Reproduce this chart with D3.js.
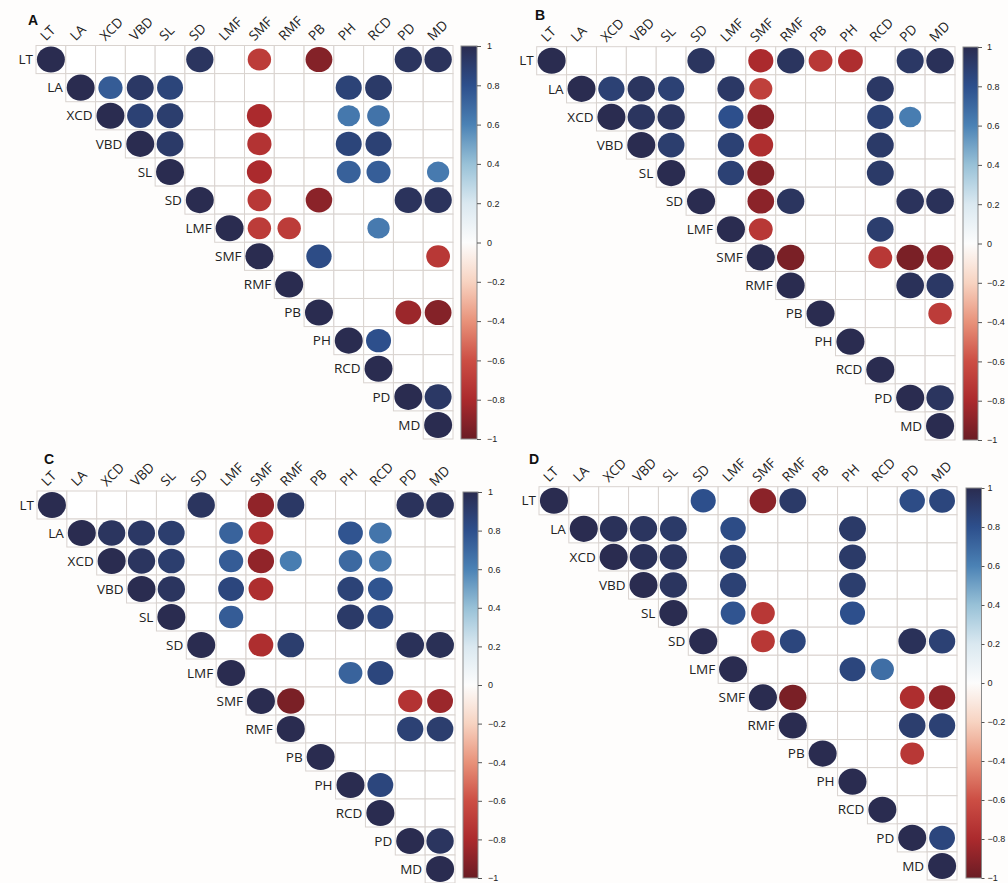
<!DOCTYPE html>
<html><head><meta charset="utf-8">
<script src="https://cdn.jsdelivr.net/npm/d3@7"></script>
<style>body{margin:0;background:#fff}svg{display:block}</style>
</head><body>
<svg id="chart" width="1008" height="883"></svg>
<script>
const variables = ["LT","LA","XCD","VBD","SL","SD","LMF","SMF","RMF","PB","PH","RCD","PD","MD"];
const colorTicks = [1,0.8,0.6,0.4,0.2,0,-0.2,-0.4,-0.6,-0.8,-1];
const paletteStops = [-1,-0.8,-0.6,-0.4,-0.2,0,0.2,0.4,0.6,0.8,1];
const paletteColors = ["#6a1c24","#ab2a2d","#cc4e44","#e8927a","#f7d3c1","#fcfcfc","#dae8f0","#98c1d7","#4b82b5","#2d4f8c","#2a2c50"];

// off-diagonal significant correlations [row, column, r]
const corrA = [
 ["LT","SD",0.95],["LT","SMF",-0.7],["LT","PB",-0.92],["LT","PD",0.95],["LT","MD",0.96],
 ["LA","XCD",0.75],["LA","VBD",0.93],["LA","SL",0.86],["LA","PH",0.87],["LA","RCD",0.92],
 ["XCD","VBD",0.88],["XCD","SL",0.9],["XCD","SMF",-0.8],["XCD","PH",0.64],["XCD","RCD",0.66],
 ["VBD","SL",0.92],["VBD","SMF",-0.75],["VBD","PH",0.86],["VBD","RCD",0.88],
 ["SL","SMF",-0.8],["SL","PH",0.73],["SL","RCD",0.74],["SL","MD",0.63],
 ["SD","SMF",-0.72],["SD","PB",-0.9],["SD","PD",0.96],["SD","MD",0.96],
 ["LMF","SMF",-0.7],["LMF","RMF",-0.7],["LMF","RCD",0.63],
 ["SMF","PB",0.82],["SMF","MD",-0.72],
 ["PB","PD",-0.85],["PB","MD",-0.92],
 ["PH","RCD",0.8],
 ["PD","MD",0.93]
];
const corrB = [
 ["LT","SD",0.95],["LT","SMF",-0.8],["LT","RMF",0.95],["LT","PB",-0.72],["LT","PH",-0.78],["LT","PD",0.93],["LT","MD",0.97],
 ["LA","XCD",0.88],["LA","VBD",0.95],["LA","SL",0.88],["LA","LMF",0.93],["LA","SMF",-0.68],["LA","RCD",0.93],
 ["XCD","VBD",0.95],["XCD","SL",0.95],["XCD","LMF",0.8],["XCD","SMF",-0.9],["XCD","RCD",0.88],["XCD","PD",0.62],
 ["VBD","SL",0.9],["VBD","LMF",0.88],["VBD","SMF",-0.78],["VBD","RCD",0.92],
 ["SL","LMF",0.88],["SL","SMF",-0.92],["SL","RCD",0.92],
 ["SD","SMF",-0.9],["SD","RMF",0.95],["SD","PD",0.96],["SD","MD",0.97],
 ["LMF","SMF",-0.72],["LMF","RCD",0.9],
 ["SMF","RMF",-0.95],["SMF","RCD",-0.72],["SMF","PD",-0.95],["SMF","MD",-0.9],
 ["RMF","PD",0.97],["RMF","MD",0.93],
 ["PB","MD",-0.7],
 ["PD","MD",0.95]
];
const corrC = [
 ["LT","SD",0.95],["LT","SMF",-0.88],["LT","RMF",0.93],["LT","PD",0.96],["LT","MD",0.97],
 ["LA","XCD",0.95],["LA","VBD",0.93],["LA","SL",0.9],["LA","LMF",0.72],["LA","SMF",-0.78],["LA","PH",0.78],["LA","RCD",0.65],
 ["XCD","VBD",0.95],["XCD","SL",0.9],["XCD","LMF",0.75],["XCD","SMF",-0.88],["XCD","RMF",0.62],["XCD","PH",0.7],["XCD","RCD",0.65],
 ["VBD","SL",0.95],["VBD","LMF",0.85],["VBD","SMF",-0.78],["VBD","PH",0.87],["VBD","RCD",0.78],
 ["SL","LMF",0.75],["SL","PH",0.92],["SL","RCD",0.85],
 ["SD","SMF",-0.78],["SD","RMF",0.9],["SD","PD",0.97],["SD","MD",0.98],
 ["LMF","PH",0.72],["LMF","RCD",0.85],
 ["SMF","RMF",-0.95],["SMF","PD",-0.75],["SMF","MD",-0.85],
 ["RMF","PD",0.88],["RMF","MD",0.9],
 ["PH","RCD",0.85],
 ["PD","MD",0.95]
];
const corrD = [
 ["LT","SD",0.8],["LT","SMF",-0.9],["LT","RMF",0.92],["LT","PD",0.82],["LT","MD",0.85],
 ["LA","XCD",0.97],["LA","VBD",0.95],["LA","SL",0.92],["LA","LMF",0.82],["LA","PH",0.92],
 ["XCD","VBD",0.97],["XCD","SL",0.95],["XCD","LMF",0.88],["XCD","PH",0.92],
 ["VBD","SL",0.95],["VBD","LMF",0.88],["VBD","PH",0.9],
 ["SL","LMF",0.78],["SL","SMF",-0.72],["SL","PH",0.8],
 ["SD","SMF",-0.72],["SD","RMF",0.85],["SD","PD",0.97],["SD","MD",0.88],
 ["LMF","PH",0.85],["LMF","RCD",0.68],
 ["SMF","RMF",-0.95],["SMF","PD",-0.78],["SMF","MD",-0.88],
 ["RMF","PD",0.9],["RMF","MD",0.88],
 ["PB","PD",-0.72],
 ["PD","MD",0.85]
];
const panelLetters = ["A","B","C","D"];

const svg = d3.select("#chart");
svg.append("rect").attr("width",1008).attr("height",883).attr("fill","#fefdfc");
const color = d3.scaleLinear().domain(paletteStops).range(paletteColors).interpolate(d3.interpolateRgb);

const defs = svg.append("defs");
const grad = defs.append("linearGradient").attr("id","cbgrad").attr("x1",0).attr("y1",1).attr("x2",0).attr("y2",0);
d3.range(0,1.0001,0.05).forEach(t=>{
  grad.append("stop").attr("offset",t).attr("stop-color",color(-1+2*t));
});

const layouts = [
 {left:36, top:45.5, right:453, bottom:439, cbX:461, cbW:16, cbTop:46, cbBot:439, lx:28, ly:25, tk:4, pad:6, data:corrA},
 {left:536.7, top:46.7, right:955, bottom:440, cbX:963, cbW:15, cbTop:47, cbBot:440, lx:535, ly:20, tk:4, pad:5, data:corrB},
 {left:37, top:491, right:455, bottom:883, cbX:463, cbW:15, cbTop:492, cbBot:878, lx:44, ly:464, tk:4, pad:6, data:corrC},
 {left:539, top:486.7, right:957, bottom:880, cbX:966, cbW:15.5, cbTop:488, cbBot:878, lx:529, ly:464, tk:3, pad:3, data:corrD}
];

layouts.forEach((L,pi)=>{
  const g = svg.append("g");
  const x = d3.scaleBand().domain(variables).range([L.left,L.right]).padding(0);
  const y = d3.scaleBand().domain(variables).range([L.top,L.bottom]).padding(0);
  const cw = x.bandwidth(), ch = y.bandwidth();
  const cells = [];
  variables.forEach((r,i)=>variables.forEach((c,j)=>{ if(j>=i) cells.push({r,c}); }));
  g.selectAll("rect.cell").data(cells).join("rect").attr("class","cell")
    .attr("x",d=>x(d.c)).attr("y",d=>y(d.r)).attr("width",cw).attr("height",ch)
    .attr("fill","#ffffff").attr("stroke","#d9d3cf").attr("stroke-width",1);
  const pts = variables.map(v=>[v,v,1]).concat(L.data);
  g.selectAll("ellipse").data(pts).join("ellipse")
    .attr("cx",d=>x(d[1])+cw/2).attr("cy",d=>y(d[0])+ch/2)
    .attr("rx",d=>0.47*cw*Math.sqrt(Math.abs(d[2])))
    .attr("ry",d=>0.465*ch*Math.sqrt(Math.abs(d[2])))
    .attr("fill",d=>color(d[2]));
  // row labels
  g.selectAll("text.row").data(variables).join("text").attr("class","row")
    .attr("x",(d)=>x(d)-3).attr("y",d=>y(d)+ch/2).attr("dy","0.35em")
    .attr("text-anchor","end").attr("font-family","Open Sans, sans-serif").attr("font-size",13.5).attr("fill","#222")
    .text(d=>d);
  // column labels
  g.selectAll("text.col").data(variables).join("text").attr("class","col")
    .attr("transform",d=>`translate(${x(d)+cw/2-5},${L.top-4}) rotate(-45)`)
    .attr("text-anchor","start").attr("font-family","Open Sans, sans-serif").attr("font-size",13.5).attr("fill","#222")
    .text(d=>d);
  // panel letter
  g.append("text").attr("x",L.lx).attr("y",L.ly).attr("font-family","Liberation Sans, Arial, sans-serif")
    .attr("font-weight","bold").attr("font-size",14).attr("fill","#111").text(panelLetters[pi]);
  // colorbar
  const cy = d3.scaleLinear().domain([-1,1]).range([L.cbBot,L.cbTop]);
  g.append("rect").attr("x",L.cbX).attr("y",L.cbTop).attr("width",L.cbW).attr("height",L.cbBot-L.cbTop)
    .attr("fill","url(#cbgrad)").attr("stroke","#8a8a8a").attr("stroke-width",1);
  const ax = g.append("g").attr("transform",`translate(${L.cbX+L.cbW},0)`)
    .call(d3.axisRight(cy).tickValues(colorTicks).tickSize(L.tk).tickPadding(L.pad).tickFormat(d3.format("")));
  ax.select(".domain").remove();
  ax.selectAll("line").attr("stroke","#555");
  ax.selectAll("text").attr("font-family","Liberation Sans, Arial, sans-serif").attr("font-size",9).attr("fill","#222");
});
</script>
</body></html>
